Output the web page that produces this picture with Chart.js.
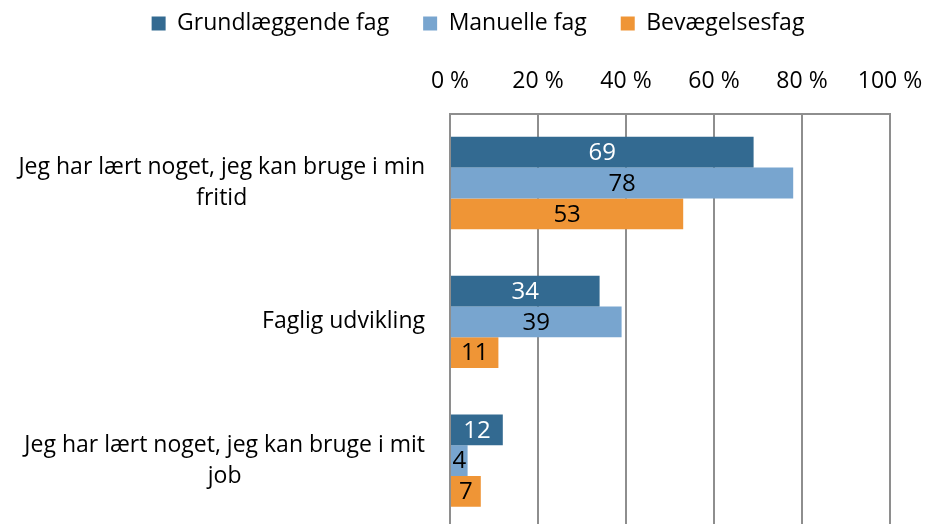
<!DOCTYPE html>
<html>
<head>
<meta charset="utf-8">
<script src="https://cdn.jsdelivr.net/npm/chart.js@4.4.0/dist/chart.umd.min.js"></script>
<style>
  html, body { margin: 0; padding: 0; background: #fff; overflow: hidden; }
  canvas { display: block; }
</style>
</head>
<body>
<canvas id="chart" width="926" height="532"></canvas>
<script>
const categories = [
    ['Jeg har lært noget, jeg kan bruge i min', 'fritid'],
    ['Faglig udvikling'],
    ['Jeg har lært noget, jeg kan bruge i mit', 'job']
];
const seriesNames = ['Grundlæggende fag', 'Manuelle fag', 'Bevægelsesfag'];
const grundlaeggende = [69, 34, 12];
const manuelle = [78, 39, 4];
const bevaegelse = [53, 11, 7];
const seriesColors = ['#336A91', '#78A5CF', '#EF9536'];
const valueColors = ['#ffffff', '#000000', '#000000'];

const FONT = '"Open Sans", sans-serif';
const SIZE = 23;
const PAD_LEFT = 66;

// category labels: block right-aligned to the axis, lines centered inside the block
const categoryLabels = {
    id: 'categoryLabels',
    afterDraw(chart) {
        const ctx = chart.ctx;
        const y = chart.scales.y;
        ctx.save();
        ctx.font = SIZE + 'px ' + FONT;
        ctx.fillStyle = '#000';
        ctx.textAlign = 'center';
        ctx.textBaseline = 'middle';
        const lineH = 31;
        categories.forEach((lines, i) => {
            const w = Math.max(...lines.map(l => ctx.measureText(l).width));
            const cx = y.right - 25 - w / 2;
            const cy = y.getPixelForTick(i);
            const top = cy - (lines.length - 1) * lineH / 2;
            lines.forEach((l, j) => ctx.fillText(l, cx, top + j * lineH));
        });
        ctx.restore();
    }
};

// value labels centered inside each bar
const valueLabels = {
    id: 'valueLabels',
    afterDatasetsDraw(chart) {
        const ctx = chart.ctx;
        ctx.save();
        ctx.font = '24px ' + FONT;
        ctx.textAlign = 'center';
        ctx.textBaseline = 'middle';
        chart.data.datasets.forEach((ds, di) => {
            chart.getDatasetMeta(di).data.forEach((bar, i) => {
                ctx.fillStyle = valueColors[di];
                ctx.fillText(String(ds.data[i]), (bar.x + bar.base) / 2, bar.y + 1);
            });
        });
        ctx.restore();
    }
};

new Chart(document.getElementById('chart'), {
    type: 'bar',
    data: {
        labels: categories,
        datasets: [grundlaeggende, manuelle, bevaegelse].map((d, i) => ({
            label: seriesNames[i],
            data: d,
            backgroundColor: seriesColors[i],
            categoryPercentage: 0.665,
            barPercentage: 1.0
        }))
    },
    options: {
        indexAxis: 'y',
        responsive: false,
        animation: false,
        layout: { padding: { left: PAD_LEFT, right: 36, top: -22, bottom: 2 } },
        plugins: {
            legend: {
                position: 'top',
                labels: {
                    font: { family: FONT, size: SIZE },
                    color: '#000',
                    boxWidth: 14,
                    boxHeight: 14,
                    padding: 34
                }
            },
            tooltip: { enabled: false }
        },
        scales: {
            x: {
                position: 'top',
                min: 0,
                max: 100,
                ticks: {
                    stepSize: 20,
                    color: '#000',
                    font: { family: FONT, size: SIZE },
                    padding: 18,
                    callback: v => v + ' %'
                },
                grid: { color: '#8e8e8e', lineWidth: 2, drawTicks: false },
                border: { color: '#8e8e8e', width: 2 },
                afterFit: s => {
                    s.height += 5;
                    s.paddingLeft = 0;
                    s.paddingRight = 0;
                }
            },
            y: {
                ticks: { display: false },
                grid: { display: false },
                border: { color: '#8e8e8e', width: 2 },
                afterFit: s => { s.width = 450 - PAD_LEFT; }
            }
        }
    },
    plugins: [categoryLabels, valueLabels]
});
</script>
</body>
</html>
